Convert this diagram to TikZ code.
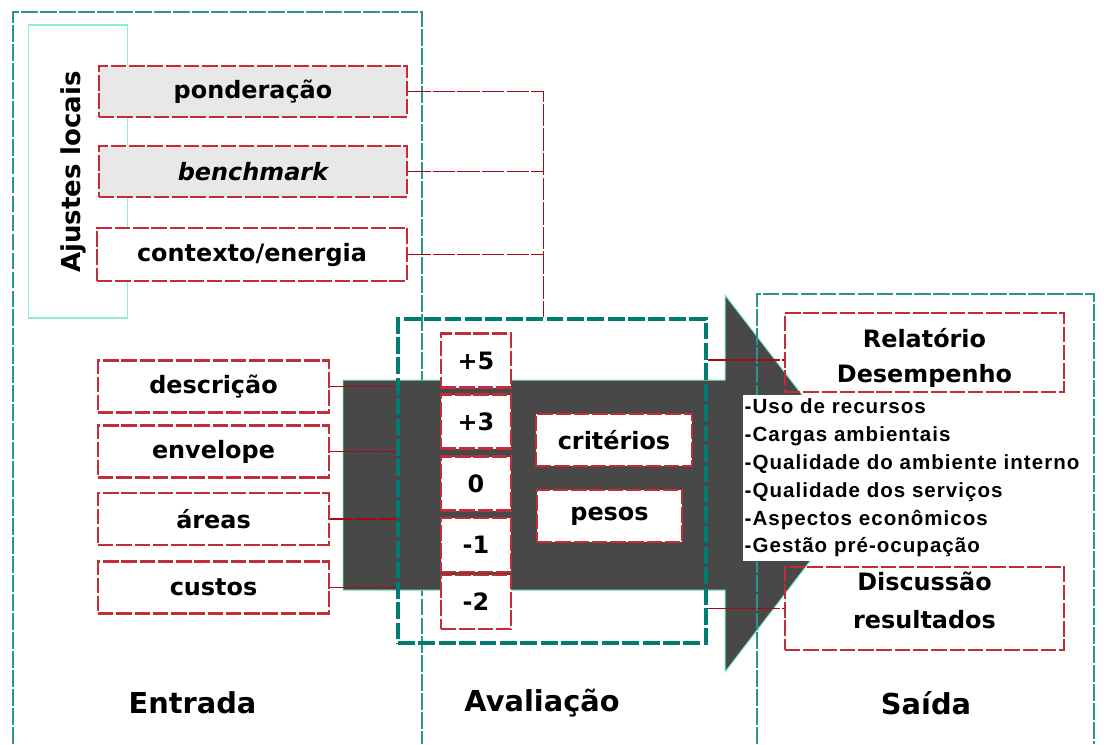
\documentclass[tikz,border=0pt]{standalone}
\usepackage{fontspec}
\usetikzlibrary{positioning}
\newfontfamily\boxfont{DejaVu Sans}
\newfontfamily\listfont{Liberation Sans}[LetterSpace=5]
\definecolor{panelteal}{RGB}{40,150,140}
\definecolor{avalteal}{RGB}{0,125,115}
\definecolor{boxred}{RGB}{195,45,55}
\definecolor{linkred}{RGB}{165,10,20}
\definecolor{arrowgray}{RGB}{72,72,72}
\definecolor{arrowedge}{RGB}{120,235,190}
\definecolor{ajustegreen}{RGB}{140,240,200}
\definecolor{boxgray}{RGB}{232,232,232}

\begin{document}
\begin{tikzpicture}[x=0.025cm,y=-0.025cm,
  panel/.style={draw=panelteal,line width=1.2pt,dash pattern=on 12pt off 1.5pt},
  redbox/.style={draw=boxred,line width=1.5pt,dash pattern=on 11pt off 2pt,fill=white,
    inner sep=0pt,minimum height=1.3cm,font=\boxfont\bfseries\fontsize{17}{20}\selectfont},
  scorebox/.style={redbox,minimum width=1.75cm,minimum height=1.35cm},
  boxtext/.style={align=center,inner sep=0pt,font=\boxfont\bfseries\fontsize{17}{22}\selectfont},
  link/.style={draw=linkred,line width=1.2pt,dash pattern=on 16pt off 1.5pt},
  title/.style={font=\boxfont\bfseries\fontsize{20.5}{24}\selectfont}]
\useasboundingbox (0,0) rectangle (1104,744);

% painel de entrada
\draw[panel] (13,744) -- (13,12) -- (422,12) -- (422,744);
\draw[draw=ajustegreen,line width=0.9pt] (28.6,25) rectangle (127.5,318);
\node[title,font=\boxfont\bfseries\fontsize{18.5}{22}\selectfont,rotate=90] (ajustes) at (73,172) {Ajustes locais};

% seta
\fill[arrowgray,draw=arrowedge,line width=0.7pt] (343,380) -- (725,380) -- (725,295) -- (870,483)
  -- (725,672) -- (725,590) -- (343,590) -- cycle;

% ajustes locais
\node[redbox,fill=boxgray,minimum width=7.7cm,minimum height=1.275cm] (pond) at (253,91.5) {ponderação};
\node[redbox,fill=boxgray,minimum width=7.7cm,minimum height=1.275cm] (bench) at (253,171.5) {\itshape benchmark};
\node[redbox,minimum width=7.75cm,minimum height=1.325cm] (contexto) at (252,254.5) {contexto/energia};

% entrada
\node[redbox,minimum width=5.775cm] (desc) at (213.5,386.5) {descrição};
\node[redbox,minimum width=5.775cm] (envel) at (213.5,451.5) {envelope};
\node[redbox,minimum width=5.775cm] (areas) at (213.5,519) {áreas};
\node[redbox,minimum width=5.775cm] (custos) at (213.5,587.5) {custos};

% avaliacao
\node[draw=avalteal,line width=2.8pt,dash pattern=on 12pt off 2.5pt,
  minimum width=7.7cm,minimum height=8.1cm,inner sep=0pt] (aval) at (552,481) {};
\node[scorebox] (s5) at (476,360.5) {+5};
\node[scorebox] (s3) at (476,421.5) {+3};
\node[scorebox] (s0) at (476,483.5) {0};
\node[scorebox] (sm1) at (476,545) {-1};
\node[scorebox] (sm2) at (476,602) {-2};
\node[redbox,minimum width=3.9cm] (crit) at (614,440) {critérios};
\node[redbox,minimum width=3.625cm] (pesos) at (609.5,516) {pesos};

% ligacoes
\coordinate (bus) at (543.5,91.5);
\draw[link] (pond.east) -- (bus) -- (bus |- aval.north);
\draw[link] (bench.east) -- (bench.east -| bus);
\draw[link] (contexto.east) -- (contexto.east -| bus);
\draw[link] (desc.east) -- (desc.east -| aval.west);
\draw[link] (envel.east) -- (envel.east -| aval.west);
\draw[link] (areas.east) -- (areas.east -| aval.west);
\draw[link] (custos.east) -- (custos.east -| aval.west);

% saida
\draw[panel] (757,744) -- (757,294) -- (1094,294) -- (1094,744);
\node[redbox,fill=none,minimum width=6.975cm,minimum height=1.975cm] (rel) at (924.5,352.5) {};
\node[boxtext] (reltxt) at (924.5,358) {Relatório\\[3pt]Desempenho};
\node[redbox,fill=none,minimum width=6.975cm,minimum height=2.075cm] (disc) at (924.5,608.5) {};
\node[boxtext] (disctxt) at (924.5,600) {Discussão\\[5pt]resultados};
\draw[link] (aval.east |- 0,360) -- (rel.west |- 0,360);
\draw[link] (aval.east |- disc.west) -- (disc.west);

\node[fill=white,anchor=north west,align=left,inner xsep=1pt,inner ysep=2.5pt,
  font=\listfont\bfseries\fontsize{14.6}{19.8}\selectfont] (lista) at (743,395)
  {-Uso de recursos\\-Cargas ambientais\\-Qualidade do ambiente interno\\-Qualidade dos serviços\\-Aspectos econômicos\\-Gestão pré-ocupação};

% titulos
\node[title] (entrada) at (192.5,703) {Entrada};
\node[title] (avaliacao) at (542,703) {Avaliação};
\node[title] (saida) at (926,703) {Saída};
\end{tikzpicture}
\end{document}
